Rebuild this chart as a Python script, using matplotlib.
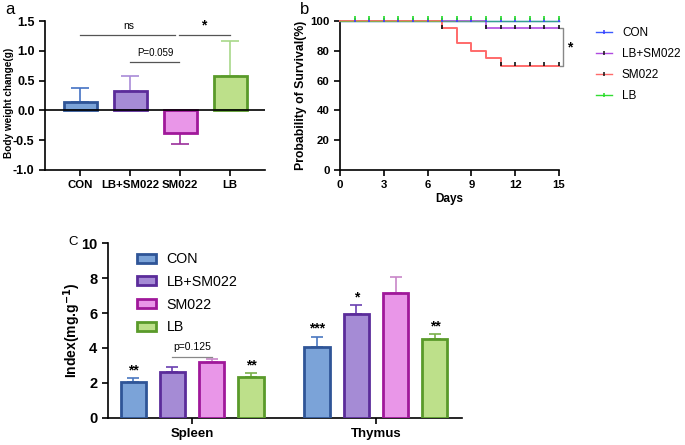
import matplotlib
matplotlib.use("Agg")
import matplotlib.pyplot as plt
import numpy as np
from matplotlib.patches import Patch
from matplotlib.lines import Line2D

plt.rcParams['font.family'] = ['Liberation Sans', 'DejaVu Sans']

# ---------------- data ----------------
groups = ['CON', 'LB+SM022', 'SM022', 'LB']
a_mean = [0.14, 0.32, -0.38, 0.58]
a_err = [0.23, 0.26, 0.19, 0.59]

# survival (Kaplan-Meier steps)
con_days = [0, 15]
con_surv = [100, 100]
con_cens = [1, 2, 3, 4, 5, 6, 7, 8, 9, 10, 11, 12, 13, 14, 15]
lbsm_days = [0, 10, 15]
lbsm_surv = [100, 95, 95]
lbsm_cens = [10, 11, 12, 13, 14, 15]
sm_days = [0, 7, 8, 9, 10, 11, 15]
sm_surv = [100, 95, 85, 80, 75, 70, 70]
sm_cens = [7, 11, 12, 13, 14, 15]
lb_days = [0, 15]
lb_surv = [100, 100]
lb_cens = [1, 2, 3, 4, 5, 6, 7, 8, 9, 10, 11, 12, 13, 14, 15]

organs = ['Spleen', 'Thymus']
c_con = [2.04, 4.07]
c_con_err = [0.23, 0.58]
c_lbsm = [2.65, 5.93]
c_lbsm_err = [0.25, 0.51]
c_sm = [3.18, 7.14]
c_sm_err = [0.17, 0.92]
c_lb = [2.32, 4.53]
c_lb_err = [0.23, 0.27]
c_con_sig = ['**', '***']
c_lbsm_sig = ['', '*']
c_sm_sig = ['', '']
c_lb_sig = ['**', '**']

# ---------------- styles ----------------
fills = ['#7ba3d8', '#a58bd5', '#e996e8', '#bde08a']
edges = ['#2f5597', '#5b2c9a', '#a0189a', '#5a9a2a']
a_errc = ['#4472c4', '#a98bd8', '#9b2f9b', '#a8d88a']
c_errc = ['#4a78c0', '#6a3fb0', '#c886c8', '#7ab04a']

fig = plt.figure(figsize=(6.85, 4.45), dpi=100)

# ---------------- panel a ----------------
axa = fig.add_axes([0.0657, 0.618, 0.3212, 0.3348])
xa = np.arange(len(groups))
for i in range(len(groups)):
    m = a_mean[i]
    yerr = [[0], [a_err[i]]] if m >= 0 else [[a_err[i]], [0]]
    axa.bar(xa[i], m, width=0.66, color=fills[i], edgecolor=edges[i], linewidth=2, zorder=3)
    axa.errorbar(xa[i], m, yerr=yerr, fmt='none', ecolor=a_errc[i], elinewidth=1.2,
                 capsize=6.5, capthick=1.2, zorder=2)
axa.axhline(0, color='black', lw=1.2, zorder=4)
axa.set_xlim(-0.7, 3.7)
axa.set_ylim(-1.0, 1.5)
axa.set_yticks([-1.0, -0.5, 0.0, 0.5, 1.0, 1.5])
axa.set_yticklabels(['-1.0', '-0.5', '0.0', '0.5', '1.0', '1.5'])
axa.set_xticks(xa)
axa.set_xticklabels(groups)
axa.spines['top'].set_visible(False)
axa.spines['right'].set_visible(False)
for s in ['left', 'bottom']:
    axa.spines[s].set_linewidth(1.2)
axa.tick_params(width=1.2, length=4)
axa.tick_params(axis='x', labelsize=8.2)
axa.tick_params(axis='y', labelsize=9)
for lab in axa.get_xticklabels() + axa.get_yticklabels():
    lab.set_fontweight('bold')
axa.set_ylabel('Body weight change(g)', fontsize=7.2, fontweight='bold')
axa.yaxis.set_label_coords(-0.14, 0.45)
# significance
axa.plot([0, 1.9], [1.27, 1.27], color='#555555', lw=0.9)
axa.text(0.97, 1.33, 'ns', ha='center', va='bottom', fontsize=7.5)
axa.plot([1.98, 3.0], [1.27, 1.27], color='#555555', lw=0.9)
axa.text(2.48, 1.3, '*', ha='center', va='bottom', fontsize=10, fontweight='bold')
axa.plot([1.0, 1.98], [0.82, 0.82], color='#555555', lw=0.9)
axa.text(1.5, 0.88, 'P=0.059', ha='center', va='bottom', fontsize=7)
fig.text(5 / 685, 1 - 10 / 445, 'a', fontsize=12, va='center')

# ---------------- panel b ----------------
axb = fig.add_axes([0.4964, 0.618, 0.3197, 0.3348])
line_cols = ['#3a5aff', '#b04ae0', '#ff6a6a', '#33dd33']
line_alpha = [1.0, 1.0, 1.0, 0.55]
line_w = [1.0, 1.2, 1.4, 1.0]
cens_cols = ['#3a3aff', '#111111', '#111111', '#22dd22']
cens_off = [0.6, 1.0, 1.0, 2.0]
data_b = [(con_days, con_surv, con_cens), (lbsm_days, lbsm_surv, lbsm_cens),
          (sm_days, sm_surv, sm_cens), (lb_days, lb_surv, lb_cens)]
for i in range(4):
    d, s, c = data_b[i]
    axb.step(d, s, where='post', color=line_cols[i], lw=line_w[i], alpha=line_alpha[i],
             zorder=3, clip_on=False)
    cy = [s[np.searchsorted(d, ci, side='right') - 1] for ci in c]
    axb.plot(c, np.array(cy) + cens_off[i], linestyle='none', marker='|', markersize=3.2,
             markeredgewidth=1.2, color=cens_cols[i], zorder=4 + i, clip_on=False)
axb.set_xlim(0, 15)
axb.set_ylim(0, 100)
axb.set_xticks([0, 3, 6, 9, 12, 15])
axb.set_yticks([0, 20, 40, 60, 80, 100])
axb.spines['top'].set_visible(False)
axb.spines['right'].set_visible(False)
for s in ['left', 'bottom']:
    axb.spines[s].set_linewidth(1.2)
axb.tick_params(width=1.2, length=4, labelsize=8.2)
for lab in axb.get_xticklabels() + axb.get_yticklabels():
    lab.set_fontweight('bold')
axb.set_xlabel('Days', fontsize=8.5, fontweight='bold', labelpad=2)
axb.set_ylabel('Probability of Survival(%)', fontsize=8.8, fontweight='bold', labelpad=2)
# bracket
axb.plot([15.05, 15.3, 15.3, 15.05], [95.5, 95.5, 70, 70], color='#888888', lw=1.0,
         clip_on=False)
axb.text(15.75, 82, '*', ha='center', va='center', fontsize=10, fontweight='bold')
handles_b = [Line2D([0], [0], color=line_cols[i], lw=1.0, marker='|', markersize=3.5,
                    markeredgecolor=cens_cols[i], markeredgewidth=1.1) for i in range(4)]
fig.legend(handles_b, groups, loc='upper left', bbox_to_anchor=(0.870, 0.94),
           frameon=False, fontsize=8.5, handlelength=1.4, labelspacing=0.78,
           handletextpad=0.8, borderaxespad=0, borderpad=0)
fig.text(300 / 685, 1 - 10 / 445, 'b', fontsize=12, va='center')

# ---------------- panel c ----------------
axc = fig.add_axes([0.157, 0.0607, 0.5175, 0.3932])
centers = np.array([0, 4.68])
offs = [-1.5, -0.5, 0.5, 1.5]
c_vals = [c_con, c_lbsm, c_sm, c_lb]
c_errs = [c_con_err, c_lbsm_err, c_sm_err, c_lb_err]
c_sigs = [c_con_sig, c_lbsm_sig, c_sm_sig, c_lb_sig]
for i in range(4):
    x = centers + offs[i]
    axc.bar(x, c_vals[i], width=0.64, color=fills[i], edgecolor=edges[i], linewidth=2,
            zorder=3, label=groups[i])
    axc.errorbar(x, c_vals[i], yerr=[[0] * 2, c_errs[i]], fmt='none', ecolor=c_errc[i],
                 elinewidth=1.2, capsize=4.5, capthick=1.2, zorder=2)
    for j in range(2):
        if c_sigs[i][j]:
            axc.text(x[j], c_vals[i][j] + c_errs[i][j] + 0.05, c_sigs[i][j], ha='center',
                     va='bottom', fontsize=10, fontweight='bold')
axc.set_xlim(-2.15, 6.87)
axc.set_ylim(0, 10)
axc.set_yticks([0, 2, 4, 6, 8, 10])
axc.set_xticks(centers)
axc.set_xticklabels(organs)
axc.spines['top'].set_visible(False)
axc.spines['right'].set_visible(False)
for s in ['left', 'bottom']:
    axc.spines[s].set_linewidth(1.2)
axc.tick_params(width=1.2, length=4)
axc.tick_params(axis='x', labelsize=9.5)
axc.tick_params(axis='y', labelsize=10.5)
for lab in axc.get_xticklabels() + axc.get_yticklabels():
    lab.set_fontweight('bold')
axc.set_ylabel('Index(mg.g$^{\\mathbf{-1}}$)', fontsize=10, fontweight='bold')
axc.yaxis.set_label_coords(-0.068, 0.5)
axc.plot([-0.5, 0.5], [3.5, 3.5], color='#888888', lw=0.9)
axc.text(0.0, 3.75, 'p=0.125', ha='center', va='bottom', fontsize=7.5)
handles_c = [Patch(facecolor=fills[i], edgecolor=edges[i], linewidth=2) for i in range(4)]
axc.legend(handles_c, groups, loc='upper left', bbox_to_anchor=(0.047, 1.02), frameon=False,
           fontsize=10.3, handlelength=1.3, handleheight=0.6, labelspacing=0.6,
           handletextpad=0.75)
fig.text(68 / 685, 1 - 242 / 445, 'C', fontsize=9.5, va='center')

fig.savefig('out.png', dpi=100)
